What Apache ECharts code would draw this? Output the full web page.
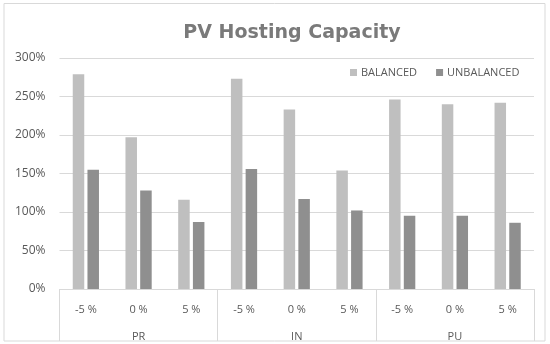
<!DOCTYPE html>
<html>
<head>
<meta charset="utf-8">
<script src="https://cdn.jsdelivr.net/npm/echarts@6/dist/echarts.min.js"></script>
<style>html,body{margin:0;padding:0;background:#fff;}#c{width:550px;height:344px;}</style>
</head>
<body>
<div id="c"></div>
<script>
var subCategories = ['-5 %', '0 %', '5 %', '-5 %', '0 %', '5 %', '-5 %', '0 %', '5 %'];
var groups = ['PR', 'IN', 'PU'];
var balanced = [279, 197, 116, 273, 233, 154, 246, 240, 242];
var unbalanced = [155, 128, 87, 156, 117, 102, 95, 95, 86];
var yTicks = [0, 50, 100, 150, 200, 250, 300];

var chart = echarts.init(document.getElementById('c'), null, {renderer: 'canvas'});
var font = '"Open Sans", "Liberation Sans", sans-serif';
chart.setOption({
  animation: false,
  backgroundColor: '#fff',
  title: {
    text: 'PV Hosting Capacity',
    left: 287, top: 19, textAlign: 'center',
    textStyle: {fontFamily: '"DejaVu Sans", sans-serif', fontWeight: 'bold', fontSize: 19, color: '#7a7a7a'}
  },
  legend: {
    left: 345, top: 62,
    icon: 'rect', itemWidth: 7, itemHeight: 7, itemGap: 19,
    textStyle: {fontFamily: font, fontSize: 11, color: '#595959', padding: [0,0,0,-1]},
    data: ['BALANCED', 'UNBALANCED']
  },
  graphic: [{
    type: 'rect', shape: {x: 4, y: 3.5, width: 541, height: 337.5},
    style: {fill: 'none', stroke: '#d9d9d9', lineWidth: 1}, silent: true
  }],
  grid: {left: 59.5, right: 16, top: 58, bottom: 55, containLabel: false},
  xAxis: [{
    type: 'category', data: subCategories, position: 'bottom',
    axisLine: {show: true, lineStyle: {color: '#d9d9d9'}},
    axisTick: {show: false},
    axisLabel: {fontFamily: font, fontSize: 11, color: '#595959', margin: 15},
    splitLine: {show: false}
  }, {
    type: 'category', data: groups, position: 'bottom',
    axisLine: {show: false},
    axisTick: {show: true, length: 52, alignWithLabel: false, lineStyle: {color: '#d9d9d9'}},
    axisLabel: {fontFamily: font, fontSize: 11, color: '#595959', margin: 42},
    splitLine: {show: false}
  }],
  yAxis: {
    type: 'value', min: yTicks[0], max: yTicks[yTicks.length - 1], interval: 50,
    axisLine: {show: false}, axisTick: {show: false},
    axisLabel: {fontFamily: font, fontSize: 12, color: '#595959', margin: 14, formatter: '{value}%'},
    splitLine: {lineStyle: {color: '#d9d9d9'}}
  },
  series: [{
    name: 'BALANCED', type: 'bar', xAxisIndex: 0, data: balanced,
    itemStyle: {color: '#bfbfbf'}, barWidth: 11.5, barGap: '28%'
  }, {
    name: 'UNBALANCED', type: 'bar', xAxisIndex: 0, data: unbalanced,
    itemStyle: {color: '#8f8f8f'}, barWidth: 11.5, barGap: '28%'
  }]
});
</script>
</body>
</html>
